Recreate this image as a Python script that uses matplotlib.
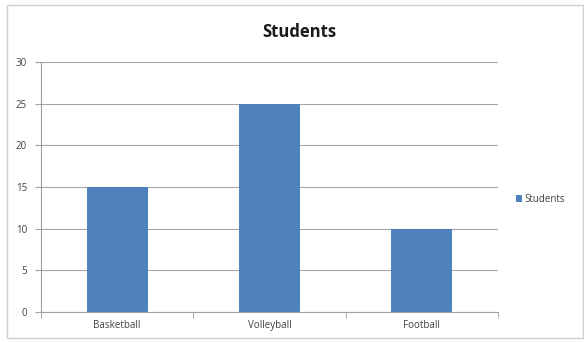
import matplotlib
matplotlib.use("Agg")
import matplotlib.pyplot as plt
from matplotlib.patches import Rectangle

categories = ["Basketball", "Volleyball", "Football"]
students = [15, 25, 10]
yticks = [0, 5, 10, 15, 20, 25, 30]

plt.rcParams['font.family'] = ['Open Sans', 'DejaVu Sans']

fig = plt.figure(figsize=(5.84, 3.43), dpi=100)
fig.patches.append(Rectangle((7/584, 5/343), 576/584, 333/343, transform=fig.transFigure,
                             fill=False, edgecolor='#d0d0d0', lw=1))

ax = fig.add_axes([41/584, 31/343, 457/584, 250/343])
x = list(range(len(categories)))
ax.bar(x, students, width=0.4, color='#4f81bd', label='Students', zorder=3)

ax.set_xlim(-0.5, 2.5)
ax.set_ylim(0, 30)
ax.set_yticks(yticks)
ax.set_xticks(x)
ax.set_xticklabels(categories)
ax.set_xticks([-0.5, 0.5, 1.5, 2.5], minor=True)
ax.tick_params(axis='x', which='major', length=0, labelsize=7, colors='#404040', pad=6)
ax.tick_params(axis='x', which='minor', length=4, color='#a0a0a0')
ax.tick_params(axis='y', length=4, color='#a0a0a0', labelsize=7, labelcolor='#404040', pad=6)
ax.grid(axis='y', color='#a6a6a6', lw=0.8, zorder=0)

for s in ['top', 'right']:
    ax.spines[s].set_visible(False)
for s in ['left', 'bottom']:
    ax.spines[s].set_color('#a0a0a0')

fig.text(0.512, 1 - 32/343, 'Students', ha='center', va='center', fontsize=12, fontweight='bold', color='#1a1a1a')

ax.legend(loc='center left', bbox_to_anchor=(1.02, 0.45), frameon=False, fontsize=7,
          handlelength=0.6, handleheight=0.6, handletextpad=0.3, labelcolor='#404040')

fig.savefig('out.png', dpi=100)
